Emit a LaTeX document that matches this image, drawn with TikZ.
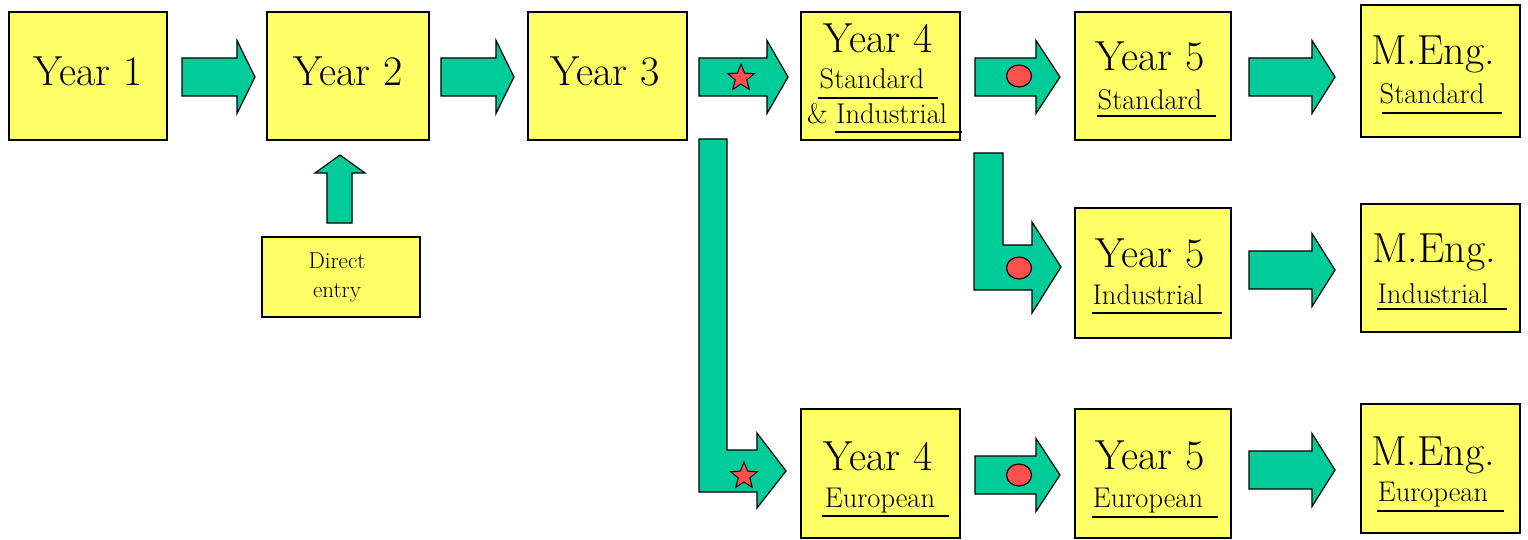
\documentclass[tikz,border=0pt]{standalone}
\usepackage{fontspec}
\usetikzlibrary{shapes.geometric}

\definecolor{boxyellow}{RGB}{255,255,102}
\definecolor{arrowgreen}{RGB}{0,204,153}
\definecolor{markred}{RGB}{255,80,80}

\tikzset{
  box/.style={draw=black, line width=2.4pt, fill=boxyellow, inner sep=0pt},
  blockarrow/.style={draw=black, line width=1.2pt, fill=arrowgreen, line join=miter},
  big/.style={font=\fontsize{42}{50}\selectfont, anchor=base, inner sep=0pt},
  sub/.style={font=\fontsize{28.5}{34}\selectfont, anchor=base, inner sep=0pt},
  small/.style={font=\fontsize{23}{27}\selectfont, anchor=base, inner sep=0pt},
  uline/.style={line width=2.4pt},
  dotmark/.style={ellipse, draw=black, line width=1.2pt, fill=markred,
    minimum width=25pt, minimum height=22pt, inner sep=0pt},
  starmark/.style={star, star points=5, star point ratio=2.3, draw=black,
    line width=1pt, fill=markred, minimum size=28pt, inner sep=0pt},
}

% box: name, left, top, right, bottom (y grows downwards)
\newcommand\placebox[5]{%
  \node[box, minimum width={#4-#2}, minimum height={#5-#3}]
    (#1) at ({(#2+#4)/2},{(#3+#5)/2}) {};}
% straight block arrow: shaft start, head base, tip, centre line
\newcommand\rightblock[4]{%
  \draw[blockarrow] (#1,{#4-19}) -- (#2,{#4-19}) -- (#2,{#4-36.5}) -- (#3,#4)
    -- (#2,{#4+36.5}) -- (#2,{#4+19}) -- (#1,{#4+19}) -- cycle;}

\begin{document}
\begin{tikzpicture}[x=1pt, y=-1pt]
\useasboundingbox (0,0) rectangle (1528,540);

% boxes
\placebox{y1}{9}{12}{167}{140}
\placebox{y2}{267}{12}{429}{140}
\placebox{y3}{528}{12}{687}{140}
\placebox{y4si}{801}{12}{960}{140}
\placebox{y5s}{1075}{12}{1231}{140}
\placebox{ms}{1361}{5}{1520}{137}
\placebox{y5i}{1075}{208}{1231}{338}
\placebox{mi}{1361}{204}{1520}{332}
\placebox{y4e}{801}{409}{960}{538}
\placebox{y5e}{1075}{409}{1231}{538}
\placebox{me}{1361}{404}{1520}{533}
\placebox{de}{262}{237}{420}{317}

% straight block arrows
\rightblock{182}{237}{255}{77}
\rightblock{441}{496}{514}{77}
\rightblock{699}{767}{788}{77}
\rightblock{975}{1036}{1060}{77}
\rightblock{1249}{1312}{1335}{77}
\rightblock{1249}{1312}{1335}{270}
\rightblock{975}{1036}{1060}{475}
\rightblock{1249}{1312}{1335}{470}

% direct entry arrow
\draw[blockarrow] (327,223) -- (327,173) -- (315,173) -- (340,155)
  -- (365,173) -- (352,173) -- (352,223) -- cycle;

% bent arrow from year 3 down to the European route
\draw[blockarrow] (699,139) -- (727,139) -- (727,450) -- (757,450) -- (757,433)
  -- (786,471) -- (757,508) -- (757,492) -- (699,492) -- cycle;

% bent arrow from year 4 down to year 5 industrial
\draw[blockarrow] (974,153) -- (1003,153) -- (1003,245) -- (1032,245) -- (1032,222)
  -- (1061,267) -- (1032,313) -- (1032,290) -- (974,290) -- cycle;

% markers on the arrows
\node[starmark] (s1) at (741,78) {};
\node[starmark] (s2) at (744,476) {};
\node[dotmark] (d1) at (1019,76) {};
\node[dotmark] (d2) at (1019,268) {};
\node[dotmark] (d3) at (1019,475) {};

% box texts
\node[big] (t1) at (88,86) {Year 1};
\node[big] (t2) at (348,86) {Year 2};
\node[big] (t3) at (605,86) {Year 3};

\node[big] (t4a) at (878,53) {Year 4};
\node[sub] (t4b) at (872,89) {Standard};
\node[sub] (t4c) at (877,124) {\& Industrial};
\draw[uline] (818,98) -- (938,98);
\draw[uline] (835,132) -- (962,132);

\node[big] (t5a) at (1150,71) {Year 5};
\node[sub] (t5b) at (1150,110) {Standard};
\draw[uline] (1097,116) -- (1216,116);

\node[big] (t6a) at (1433,65) {M.Eng.};
\node[sub] (t6b) at (1432,104) {Standard};
\draw[uline] (1382,113) -- (1502,113);

\node[big] (t7a) at (1150,267) {Year 5};
\node[sub] (t7b) at (1148,304) {Industrial};
\draw[uline] (1092,313) -- (1222,313);

\node[big] (t8a) at (1434,262) {M.Eng.};
\node[sub] (t8b) at (1433,303) {Industrial};
\draw[uline] (1377,309) -- (1507,309);

\node[big] (t9a) at (878,470) {Year 4};
\node[sub] (t9b) at (880,507) {European};
\draw[uline] (822,516) -- (949,516);

\node[big] (t10a) at (1150,469) {Year 5};
\node[sub] (t10b) at (1148,507) {European};
\draw[uline] (1092,517) -- (1218,517);

\node[big] (t11a) at (1433,465) {M.Eng.};
\node[sub] (t11b) at (1433,501) {European};
\draw[uline] (1377,511) -- (1504,511);

\node[small] (t12a) at (337,268) {Direct};
\node[small] (t12b) at (337,297) {entry};
\end{tikzpicture}
\end{document}
